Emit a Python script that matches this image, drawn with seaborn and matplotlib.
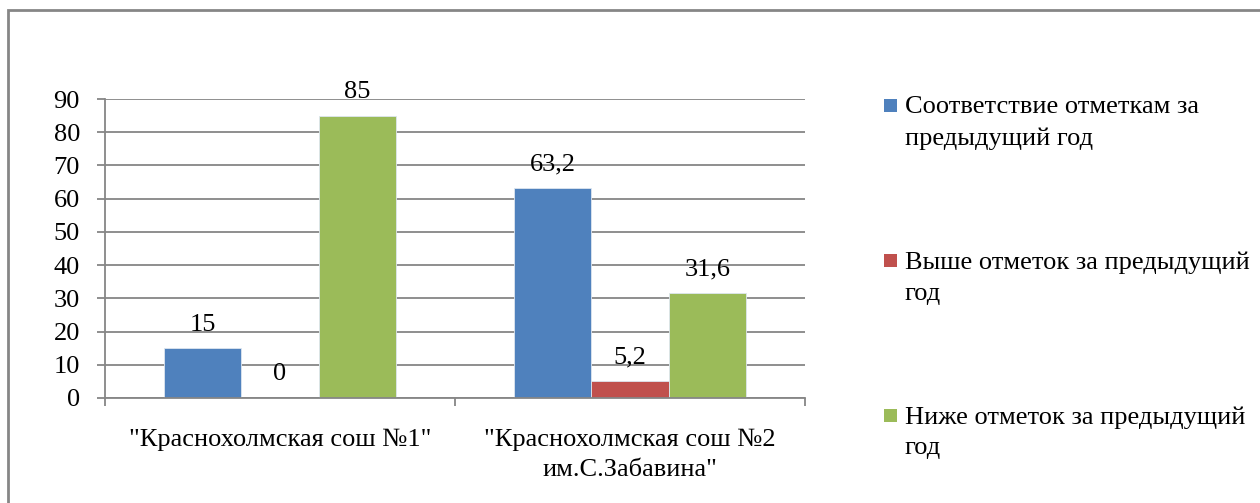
import pandas as pd
import seaborn as sns
import matplotlib.pyplot as plt
from matplotlib.patches import Patch, Rectangle
from matplotlib.legend_handler import HandlerPatch

sns.set_theme(style='white')
plt.rcParams['font.family'] = ['Liberation Serif', 'DejaVu Serif']
plt.rcParams['text.color'] = 'black'

# data
schools = ['"Краснохолмская сош №1"', '"Краснохолмская сош №2\nим.С.Забавина"']
series = ['Соответствие отметкам за\nпредыдущий год',
          'Выше отметок за предыдущий\nгод',
          'Ниже отметок за предыдущий\nгод']
same = [15, 63.2]
higher = [0, 5.2]
lower = [85, 31.6]
colors = ['#4F81BD', '#C0504D', '#9BBB59']

df = pd.DataFrame({
    'School': schools * 3,
    'Series': [s for s in series for _ in schools],
    'Value': same + higher + lower,
})

fig = plt.figure(figsize=(12.6, 5.03), dpi=100)
ax = fig.add_axes([105 / 1260, 1 - 398 / 503, 700 / 1260, 299 / 503])

sns.barplot(data=df, x='School', y='Value', hue='Series', hue_order=series,
            order=schools, palette=colors, width=0.662, saturation=1,
            linewidth=0.6, edgecolor='#dde6f0', ax=ax, legend=False)

fs = 19
for cont in ax.containers:
    labels = [('%g' % b.get_height()).replace('.', ',') for b in cont]
    ax.bar_label(cont, labels=labels, padding=9, fontsize=fs, color='black')

grid_c = '#868686'
ax.set_ylim(0, 90)
ax.set_xlim(-0.5, 1.5)
ax.set_yticks(range(0, 91, 10))
ax.yaxis.grid(True, color=grid_c, linewidth=1.3)
ax.set_axisbelow(True)
for s in ['top', 'right']:
    ax.spines[s].set_visible(False)
for s in ['left', 'bottom']:
    ax.spines[s].set_color(grid_c)
    ax.spines[s].set_linewidth(1.3)

ax.tick_params(axis='y', left=True, length=6, width=1.3, color=grid_c,
               pad=12, labelsize=fs, labelcolor='black')
ax.set_xticks([-0.5, 0.5, 1.5], minor=True)
ax.tick_params(axis='x', which='minor', bottom=True, length=6, width=1.3, color=grid_c)
ax.tick_params(axis='x', which='major', bottom=False, length=0, pad=22,
               labelsize=fs, labelcolor='black')
for t in ax.get_xticklabels():
    t.set_linespacing(1.45)
ax.set_xlabel('')
ax.set_ylabel('')


def top_square(legend, orig_handle, xdescent, ydescent, width, height, fontsize):
    side = 0.48 * fontsize
    return Rectangle((-xdescent, -ydescent + height / 2 + 0.62 * fontsize - side / 2),
                     side, side)


handles = [Patch(facecolor=c, edgecolor='none') for c in colors]
leg = fig.legend(handles, series, loc='upper left',
                 bbox_to_anchor=(884 / 1260, 1 - 96 / 503),
                 frameon=False, fontsize=fs, handlelength=0.48, handleheight=0.48,
                 handletextpad=0.3, labelspacing=3.85, borderaxespad=0, borderpad=0,
                 labelcolor='black',
                 handler_map={Patch: HandlerPatch(patch_func=top_square)})
for t in leg.get_texts():
    t.set_linespacing(1.52)

# outer chart frame
fig.add_artist(Rectangle((8 / 1260, -0.2), 1.5, 1.2 - 10 / 503, transform=fig.transFigure,
                         fill=False, edgecolor=grid_c, linewidth=2))

fig.savefig('out.png', dpi=100)
